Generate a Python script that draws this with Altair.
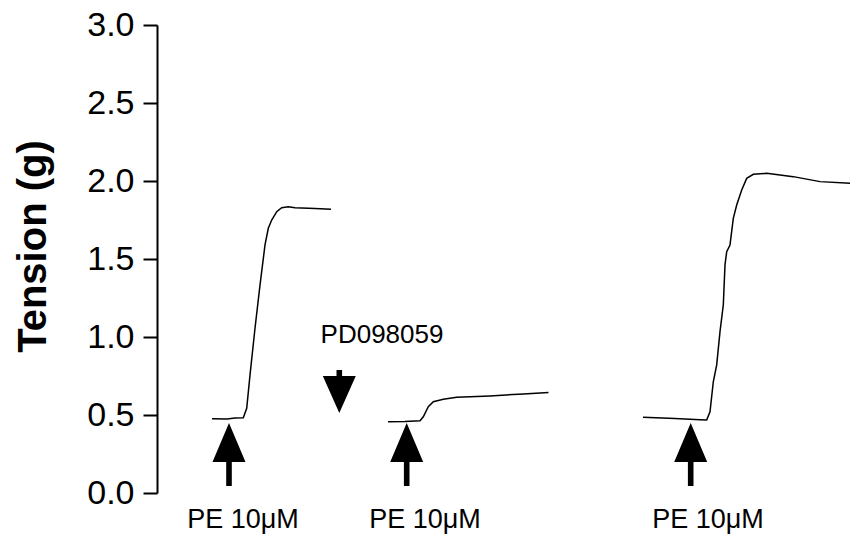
import altair as alt
import pandas as pd

# Isometric tension recordings: three responses to phenylephrine (PE 10 uM),
# the middle one after pretreatment with PD098059. Time in minutes.
trace1_t = [5.5, 7.0, 7.8, 8.63, 8.97, 9.3, 9.8, 10.3, 10.8, 11.13, 11.47, 11.97,
            12.47, 13.13, 13.8, 15.8, 17.4]
trace1_g = [0.476, 0.474, 0.480, 0.482, 0.543, 0.756, 1.056, 1.333, 1.590, 1.697, 1.750, 1.803,
            1.829, 1.835, 1.829, 1.824, 1.819]

trace2_t = [23.1, 24.8, 26.3, 26.63, 27.13, 27.63, 28.63, 29.97, 33.3, 36.63, 39.15]
trace2_g = [0.457, 0.458, 0.463, 0.489, 0.553, 0.585, 0.601, 0.613, 0.622, 0.635, 0.645]

trace3_t = [48.6, 51.8, 54.3, 54.97, 55.3, 55.63, 55.97, 56.3, 56.63, 56.8, 56.97, 57.3,
            57.63, 57.97, 58.47, 58.97, 59.63, 60.97, 63.63, 66.3, 69.3]
trace3_g = [0.485, 0.478, 0.470, 0.468, 0.521, 0.713, 0.821, 1.034, 1.205, 1.462, 1.547, 1.590,
            1.761, 1.846, 1.942, 2.017, 2.043, 2.049, 2.028, 1.996, 1.985]

# Drug additions
pe_arrow_t = [7.2, 24.97, 53.37]
pe_arrow_g = [0.247, 0.247, 0.247]
pe_label_t = [8.6, 26.8, 55.1]
pe_label_g = [-0.173, -0.173, -0.173]
pe_label = ["PE 10\u03bcM", "PE 10\u03bcM", "PE 10\u03bcM"]
pd_arrow_t = [18.23]
pd_arrow_g = [0.651]
pd_label_t = [22.5]
pd_label_g = [1.013]
pd_label = ["PD098059"]

y_ticks = [0.0, 0.5, 1.0, 1.5, 2.0, 2.5, 3.0]

FONT = "Liberation Sans"

rows = []
for name, ts, gs in (("1", trace1_t, trace1_g), ("2", trace2_t, trace2_g), ("3", trace3_t, trace3_g)):
    for t, g in zip(ts, gs):
        rows.append({"trace": name, "t": t, "g": g})
traces = pd.DataFrame(rows)

up = pd.DataFrame({"t": pe_arrow_t, "g": pe_arrow_g})
down = pd.DataFrame({"t": pd_arrow_t, "g": pd_arrow_g})
pe_text = pd.DataFrame({"t": pe_label_t, "g": pe_label_g, "label": pe_label})
pd_text = pd.DataFrame({"t": pd_label_t, "g": pd_label_g, "label": pd_label})

x_scale = alt.Scale(domain=[0, 69.4], nice=False, zero=False)
y_scale = alt.Scale(domain=[0, 3], nice=False)

x_enc = alt.X("t:Q", scale=x_scale, axis=None)

lines = alt.Chart(traces).mark_line(color="black", strokeWidth=1.5).encode(
    x=x_enc,
    y=alt.Y(
        "g:Q",
        scale=y_scale,
        axis=alt.Axis(
            values=y_ticks,
            format=".1f",
            title="Tension (g)",
            grid=False,
            labelFont=FONT,
            labelFontSize=34,
            labelColor="black",
            labelPadding=9,
            tickSize=14,
            tickWidth=2,
            tickColor="black",
            domainWidth=2,
            domainColor="black",
            titleFont=FONT,
            titleFontSize=40,
            titleFontWeight="bold",
            titleColor="black",
            titleAngle=270,
            titleAlign="center",
            titleBaseline="alphabetic",
            titleX=-112,
            titleY=221,
        ),
    ),
    detail="trace:N",
)

# Filled arrow glyphs (head plus shaft) in the unit box of a custom symbol
UP_ARROW = ("M0,-1L0.524,0.238L0.089,0.238L0.089,1L-0.089,1L-0.089,0.238L-0.524,0.238Z")
DOWN_ARROW = ("M0,1L-0.767,-0.72L-0.13,-0.72L-0.13,-1L0.13,-1L0.13,-0.72L0.767,-0.72Z")

up_arrows = alt.Chart(up).mark_point(
    shape=UP_ARROW, size=3969, filled=True, color="black", opacity=1, strokeWidth=0
).encode(x=x_enc, y=alt.Y("g:Q", scale=y_scale))

down_arrows = alt.Chart(down).mark_point(
    shape=DOWN_ARROW, size=1849, filled=True, color="black", opacity=1, strokeWidth=0
).encode(x=x_enc, y=alt.Y("g:Q", scale=y_scale))

pe_labels = alt.Chart(pe_text).mark_text(
    font=FONT, fontSize=27, color="black", align="center", baseline="middle"
).encode(x=x_enc, y=alt.Y("g:Q", scale=y_scale), text="label:N")

pd_labels = alt.Chart(pd_text).mark_text(
    font=FONT, fontSize=26, color="black", align="center", baseline="middle"
).encode(x=x_enc, y=alt.Y("g:Q", scale=y_scale), text="label:N")

chart = (
    alt.layer(lines, up_arrows, down_arrows, pe_labels, pd_labels)
    .properties(
        width=694,
        height=468,
        autosize=alt.AutoSizeParams(type="none"),
        padding={"left": 157, "top": 25, "right": 0, "bottom": 44},
        background="white",
    )
    .configure_view(strokeWidth=0)
)

chart.save("out.html", embed_options={"renderer": "svg", "actions": False})
